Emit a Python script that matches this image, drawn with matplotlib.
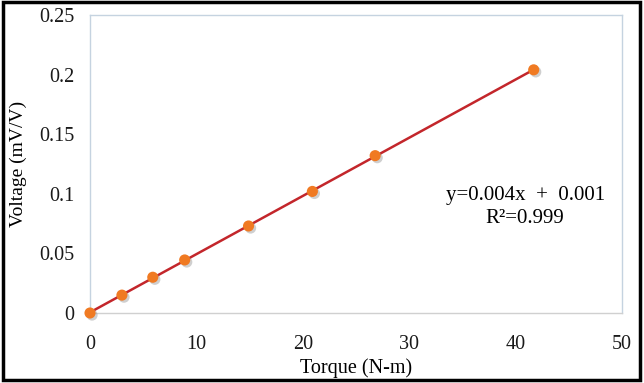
import numpy as np
import matplotlib.pyplot as plt
from matplotlib.patches import Rectangle
import matplotlib.patheffects as pe

# data
torque = [0, 3.0, 5.9, 8.9, 14.9, 20.9, 26.8, 41.7]
voltage = [0, 0.015, 0.030, 0.0445, 0.073, 0.102, 0.132, 0.204]
x_ticks = [0, 10, 20, 30, 40, 50]
y_ticks = [0, 0.05, 0.1, 0.15, 0.2, 0.25]
y_tick_labels = ['0', '0.05', '0.1', '0.15', '0.2', '0.25']

plt.rcParams['font.family'] = ['Liberation Serif', 'DejaVu Serif']

fig = plt.figure(figsize=(6.44, 3.83), dpi=100)
ax = fig.add_axes([90 / 644, 1 - 313 / 383, 532 / 644, 298 / 383])

# trend line
k, b = np.polyfit(torque, voltage, 1)
xs = np.array([0, max(torque)])
ax.plot(xs, k * xs + b, color='#C3262B', lw=1.8, zorder=2)

ax.plot(torque, voltage, 'o', ms=8, color='#F07A22', mec='none', zorder=3, clip_on=False,
        path_effects=[pe.SimplePatchShadow(offset=(1.5, -1.5), shadow_rgbFace='#888888', alpha=0.4),
                      pe.Normal()])

ax.set_xlim(0, 50)
ax.set_ylim(0, 0.25)
ax.set_xticks(x_ticks)
ax.set_yticks(y_ticks)
ax.set_yticklabels(y_tick_labels)
ax.tick_params(length=0, labelsize=14.5, colors='#1a1a1a')
ax.tick_params(axis='x', pad=16)
ax.tick_params(axis='y', pad=11)
for s in ax.spines.values():
    s.set_color('#C5D3E0')
    s.set_linewidth(1.0)
ax.spines['bottom'].set_color('#D0D0D0')

ax.set_xlabel('Torque (N-m)', fontsize=14.5, labelpad=3)
ax.set_ylabel('Voltage (mV/V)', fontsize=14, labelpad=9)

ax.text(0.818, 0.395, 'y=0.004x  +  0.001', transform=ax.transAxes,
        ha='center', va='center', fontsize=15)
ax.text(0.818, 0.318, 'R²=0.999', transform=ax.transAxes,
        ha='center', va='center', fontsize=15)

# outer frame
fig.patches.append(Rectangle((3 / 644, 3 / 383), 637 / 644, 378 / 383,
                             transform=fig.transFigure, fill=False,
                             edgecolor='black', lw=2.5))

fig.savefig('out.png', dpi=100)
